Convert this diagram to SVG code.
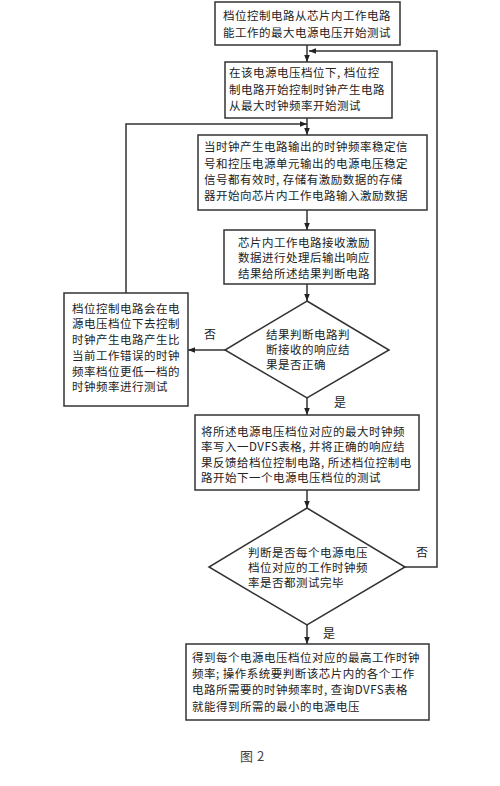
<svg xmlns="http://www.w3.org/2000/svg" width="500" height="786" viewBox="0 0 500 786">
<defs>
<marker id="ah" viewBox="0 0 10 10" refX="10" refY="5" markerWidth="7" markerHeight="7" markerUnits="userSpaceOnUse" orient="auto">
<path d="M0,1 L10,5 L0,9 Z" fill="#222"/>
</marker>
<style>
.box{fill:#fff;stroke:#333;stroke-width:1.5}
.ln{fill:none;stroke:#333;stroke-width:1.5}
text{font-family:"Noto Sans CJK SC","Noto Sans",sans-serif;font-size:11.5px;fill:#222;letter-spacing:0.5px}
.lbl{font-size:12px}
</style>
</defs>
<rect width="500" height="786" fill="#fff"/>
<g id="connectors">
<line class="ln" x1="307" y1="45" x2="307" y2="62" marker-end="url(#ah)"/>
<polyline class="ln" points="307,567 437,567 437,51 309,51" marker-end="url(#ah)"/>
<line class="ln" x1="307" y1="118" x2="307" y2="135" marker-end="url(#ah)"/>
<polyline class="ln" points="126,293 126,124 307,124" marker-end="url(#ah)"/>
<line class="ln" x1="307" y1="210" x2="307" y2="230" marker-end="url(#ah)"/>
<line class="ln" x1="307" y1="284" x2="307" y2="301" marker-end="url(#ah)"/>
<line class="ln" x1="225" y1="350" x2="188" y2="350" marker-end="url(#ah)"/>
<line class="ln" x1="307" y1="398" x2="307" y2="415" marker-end="url(#ah)"/>
<line class="ln" x1="307" y1="490" x2="307" y2="508" marker-end="url(#ah)"/>
<line class="ln" x1="307" y1="625" x2="307" y2="644" marker-end="url(#ah)"/>
<text class="lbl" x="204" y="339">否</text>
<text class="lbl" x="334" y="407">是</text>
<text class="lbl" x="416" y="557">否</text>
<text class="lbl" x="323" y="638">是</text>
</g>
<g id="n1">
<rect class="box" x="215" y="2" width="185" height="43"/>
<text x="223" y="20">档位控制电路从芯片内工作电路</text>
<text x="223" y="37">能工作的最大电源电压开始测试</text>
</g>
<g id="n2">
<rect class="box" x="225" y="62" width="167" height="56"/>
<text x="229" y="77">在该电源电压档位下, 档位控</text>
<text x="229" y="94">制电路开始控制时钟产生电路</text>
<text x="229" y="110">从最大时钟频率开始测试</text>
</g>
<g id="n3">
<rect class="box" x="198" y="135" width="229" height="75"/>
<text x="204" y="151">当时钟产生电路输出的时钟频率稳定信</text>
<text x="204" y="168">号和控压电源单元输出的电源电压稳定</text>
<text x="204" y="184">信号都有效时, 存储有激励数据的存储</text>
<text x="204" y="200">器开始向芯片内工作电路输入激励数据</text>
</g>
<g id="n4">
<rect class="box" x="224" y="230" width="151" height="54"/>
<text x="238" y="247">芯片内工作电路接收激励</text>
<text x="238" y="262">数据进行处理后输出响应</text>
<text x="238" y="278">结果给所述结果判断电路</text>
</g>
<g id="n5">
<polygon class="box" points="307,301 389,350 307,398 225,350"/>
<text x="266" y="339">结果判断电路判</text>
<text x="266" y="354">断接收的响应结</text>
<text x="266" y="369">果是否正确</text>
</g>
<g id="n6">
<rect class="box" x="64" y="293" width="124" height="113"/>
<text x="72" y="313">档位控制电路会在电</text>
<text x="72" y="328">源电压档位下去控制</text>
<text x="72" y="344">时钟产生电路产生比</text>
<text x="72" y="360">当前工作错误的时钟</text>
<text x="72" y="376">频率档位更低一档的</text>
<text x="72" y="391">时钟频率进行测试</text>
</g>
<g id="n7">
<rect class="box" x="195" y="415" width="224" height="75"/>
<text x="201" y="436">将所述电源电压档位对应的最大时钟频</text>
<text x="201" y="451">率写入一DVFS表格, 并将正确的响应结</text>
<text x="201" y="467">果反馈给档位控制电路, 所述档位控制电</text>
<text x="201" y="482">路开始下一个电源电压档位的测试</text>
</g>
<g id="n8">
<polygon class="box" points="307,508 405,567 307,625 209,567"/>
<text x="248" y="557">判断是否每个电源电压</text>
<text x="248" y="572">档位对应的工作时钟频</text>
<text x="248" y="587">率是否都测试完毕</text>
</g>
<g id="n9">
<rect class="box" x="186" y="644" width="243" height="76"/>
<text x="192" y="662">得到每个电源电压档位对应的最高工作时钟</text>
<text x="192" y="678">频率; 操作系统要判断该芯片内的各个工作</text>
<text x="192" y="694">电路所需要的时钟频率时, 查询DVFS表格</text>
<text x="192" y="711">就能得到所需的最小的电源电压</text>
</g>
<text x="240" y="761" style="font-size:13px;fill:#444">图 2</text>
</svg>
